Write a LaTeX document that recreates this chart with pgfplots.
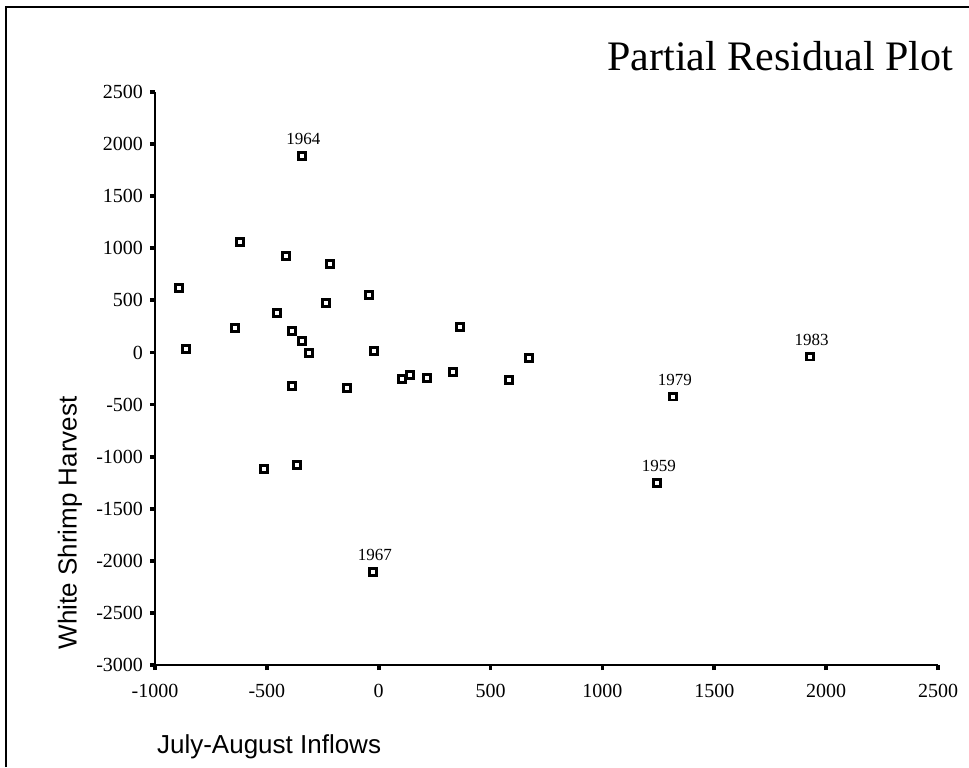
\documentclass[border=0pt]{standalone}
\usepackage{fontspec}
\setmainfont{Liberation Serif}
\setsansfont{Liberation Sans}
\usepackage{pgfplots}
\usepackage{pgfplotstable}
\pgfplotsset{compat=1.18}

% unlabelled residuals
\pgfplotstableread{
x y
-620 1060
-414 926
-218 849
-893 619
-43 552
-236 475
-455 379
-642 235
364 245
-388 206
-343 110
-861 34
-312 -5
-21 14
672 -53
332 -187
104 -254
140 -216
216 -245
582 -264
-388 -321
-142 -341
-512 -1118
-365 -1080
}\resid

% years marked on the plot
\pgfplotstableread{
x y yr
-344 1886 1964
-24 -2104 1967
1245 -1255 1959
1317 -424 1979
1928 -40 1983
}\years

\begin{document}
\begin{tikzpicture}
\useasboundingbox (0,0) rectangle (484.5pt,383.5pt);
\draw[line width=1pt] (3pt,0) -- (3pt,380pt) -- (484.5pt,380pt);

\begin{axis}[
    at={(77.5pt,51pt)}, anchor=south west,
    scale only axis,
    width=391.5pt, height=286.5pt,
    xmin=-1000, xmax=2500,
    ymin=-3000, ymax=2500,
    xtick={-1000,-500,...,2500},
    ytick={-3000,-2500,...,2500},
    axis x line*=bottom, axis y line*=left,
    axis line style={line width=1.3pt, -},
    tick align=outside,
    major tick length=2.5pt,
    tick style={line width=1.9pt, black},
    scaled ticks=false,
    /pgf/number format/1000 sep={},
    /pgf/number format/assume math mode=true,
    ticklabel style={font=\fontsize{10}{12}\selectfont},
    xticklabel style={yshift=-3.5pt},
    clip=false,
]
\addplot[only marks, mark=square, mark size=1.7pt,
    mark options={line width=1.45pt, fill=white}, black]
    table[x=x, y=y] {\resid};
\addplot[only marks, mark=square, mark size=1.7pt,
    mark options={line width=1.45pt, fill=white}, black,
    point meta=explicit symbolic,
    nodes near coords,
    every node near coord/.append style={font=\fontsize{8.5}{10}\selectfont, anchor=south, yshift=1.5pt, xshift=0.8pt}]
    table[x=x, y=y, meta=yr] {\years};
\end{axis}

\node[anchor=base east, font=\fontsize{21}{24}\selectfont] at (480pt,348pt) {Partial Residual Plot};
\node[rotate=90, font=\sffamily\fontsize{13}{15}\selectfont] at (35pt,122pt) {White Shrimp Harvest};
\node[anchor=west, font=\sffamily\fontsize{13}{15}\selectfont] at (75pt,10pt) {July-August Inflows};
\end{tikzpicture}
\end{document}
